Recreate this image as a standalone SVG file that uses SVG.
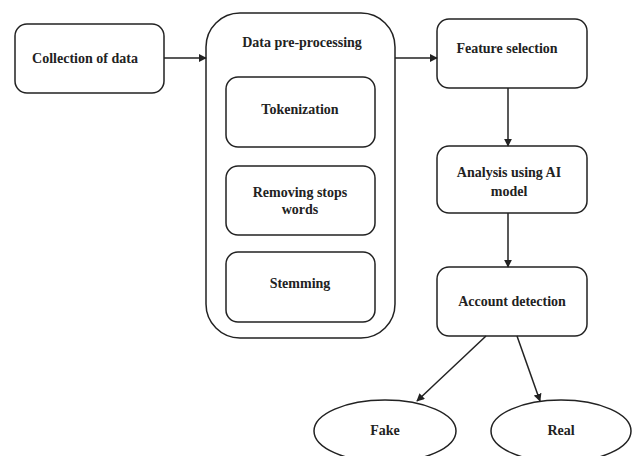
<svg xmlns="http://www.w3.org/2000/svg" width="636" height="456" viewBox="0 0 636 456">
<defs>
<style>
.box{fill:#fff;stroke:#222;stroke-width:1.5}
.t{font-family:"Liberation Serif",serif;font-weight:bold;font-size:14px;fill:#222;text-anchor:middle}
.c{stroke:#222;stroke-width:1.5;fill:none}
</style>
<marker id="ah" viewBox="0 0 10 10" refX="9" refY="5" markerWidth="8" markerHeight="8" markerUnits="userSpaceOnUse" orient="auto">
<path d="M0,0 L10,5 L0,10 z" fill="#222"/>
</marker>
</defs>
<rect width="636" height="456" fill="#fff"/>
<g id="collection"><rect class="box" x="15" y="24" width="149" height="69" rx="12"/><text class="t" x="85" y="63">Collection of data</text></g>
<g id="preprocessing"><rect class="box" x="206" y="13" width="189" height="325" rx="34"/><text class="t" x="302" y="47">Data pre-processing</text></g>
<g id="tokenization"><rect class="box" x="226" y="77" width="149" height="70" rx="12"/><text class="t" x="300" y="114">Tokenization</text></g>
<g id="removing"><rect class="box" x="226" y="166" width="149" height="69" rx="12"/><text class="t" x="300" y="197">Removing stops</text><text class="t" x="300" y="214">words</text></g>
<g id="stemming"><rect class="box" x="226" y="252" width="149" height="70" rx="12"/><text class="t" x="300" y="288">Stemming</text></g>
<g id="feature"><rect class="box" x="437" y="19" width="150" height="69" rx="12"/><text class="t" x="507" y="53">Feature selection</text></g>
<g id="analysis"><rect class="box" x="437" y="146" width="150" height="67" rx="12"/><text class="t" x="509" y="177">Analysis using AI</text><text class="t" x="509" y="196">model</text></g>
<g id="account"><rect class="box" x="437" y="267" width="150" height="69" rx="12"/><text class="t" x="512" y="306">Account detection</text></g>
<g id="fake"><ellipse class="box" cx="385" cy="431" rx="71" ry="31"/><text class="t" x="385" y="435">Fake</text></g>
<g id="real"><ellipse class="box" cx="561" cy="431" rx="70" ry="31"/><text class="t" x="561" y="435">Real</text></g>
<g id="connectors">
<line class="c" x1="164" y1="58" x2="206" y2="58" marker-end="url(#ah)"/>
<line class="c" x1="395" y1="58" x2="437" y2="58" marker-end="url(#ah)"/>
<line class="c" x1="508" y1="88" x2="508" y2="146" marker-end="url(#ah)"/>
<line class="c" x1="508" y1="213" x2="508" y2="267" marker-end="url(#ah)"/>
<line class="c" x1="486" y1="336" x2="417" y2="401" marker-end="url(#ah)"/>
<line class="c" x1="517" y1="336" x2="540" y2="401" marker-end="url(#ah)"/>
</g>
</svg>
